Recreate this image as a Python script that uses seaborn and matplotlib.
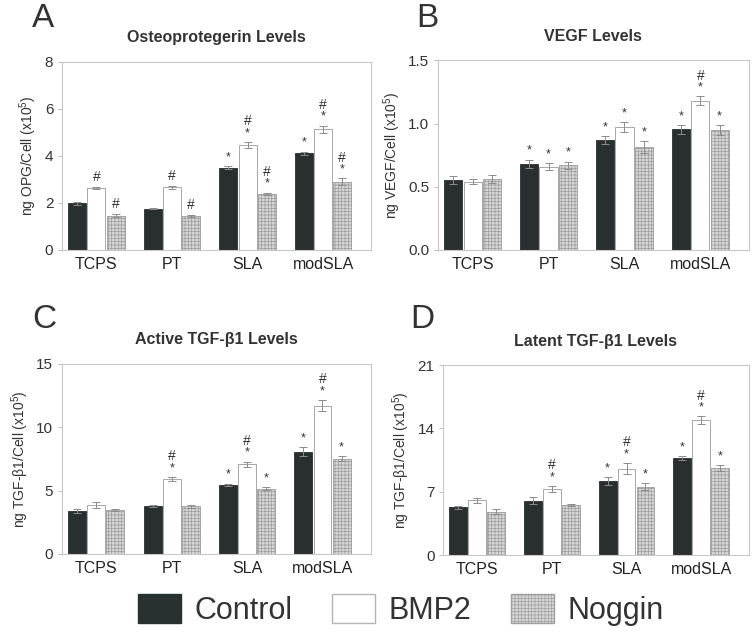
import numpy as np
import pandas as pd
import matplotlib
matplotlib.use("Agg")
import matplotlib.pyplot as plt
import seaborn as sns
from matplotlib.patches import Patch

# ---- data ----
surfaces = ["TCPS", "PT", "SLA", "modSLA"]
treatments = ["Control", "BMP2", "Noggin"]

opg_mean = [[1.98, 2.62, 1.46], [1.76, 2.66, 1.44], [3.50, 4.46, 2.38], [4.10, 5.13, 2.89]]
opg_err = [[0.07, 0.05, 0.08], [0.03, 0.05, 0.04], [0.05, 0.12, 0.06], [0.08, 0.15, 0.15]]
opg_sig = [["", "#", "#"], ["", "#", "#"], ["*", "*#", "*#"], ["*", "*#", "*#"]]

vegf_mean = [[0.555, 0.54, 0.56], [0.68, 0.66, 0.67], [0.87, 0.97, 0.815], [0.955, 1.18, 0.95]]
vegf_err = [[0.03, 0.02, 0.03], [0.035, 0.03, 0.03], [0.03, 0.04, 0.045], [0.035, 0.035, 0.04]]
vegf_sig = [["", "", ""], ["*", "*", "*"], ["*", "*", "*"], ["*", "*#", "*"]]

atgf_mean = [[3.42, 3.84, 3.47], [3.79, 5.90, 3.76], [5.47, 7.08, 5.16], [8.08, 11.71, 7.50]]
atgf_err = [[0.15, 0.25, 0.10], [0.10, 0.15, 0.12], [0.08, 0.20, 0.10], [0.35, 0.45, 0.20]]
atgf_sig = [["", "", ""], ["", "*#", ""], ["*", "*#", "*"], ["*", "*#", "*"]]

ltgf_mean = [[5.29, 6.06, 4.81], [6.03, 7.32, 5.51], [8.20, 9.57, 7.58], [10.72, 14.93, 9.65]]
ltgf_err = [[0.15, 0.25, 0.25], [0.35, 0.35, 0.10], [0.40, 0.60, 0.35], [0.20, 0.40, 0.30]]
ltgf_sig = [["", "", ""], ["", "*#", ""], ["*", "*#", "*"], ["*", "*#", "*"]]

panels = [
    ("A", "Osteoprotegerin Levels", "ng OPG/Cell (x10$^{5}$)", opg_mean, opg_err, opg_sig, 8, [0, 2, 4, 6, 8], "{:.0f}"),
    ("B", "VEGF Levels", "ng VEGF/Cell (x10$^{5}$)", vegf_mean, vegf_err, vegf_sig, 1.5, [0, 0.5, 1.0, 1.5], "{:.1f}"),
    ("C", "Active TGF-β1 Levels", "ng TGF-β1/Cell (x10$^{5}$)", atgf_mean, atgf_err, atgf_sig, 15, [0, 5, 10, 15], "{:.0f}"),
    ("D", "Latent TGF-β1 Levels", "ng TGF-β1/Cell (x10$^{5}$)", ltgf_mean, ltgf_err, ltgf_sig, 21, [0, 7, 14, 21], "{:.0f}"),
]

# axes boxes in figure fractions (left, bottom, width, height)
boxes = [
    (0.082, 0.607, 0.412, 0.296),
    (0.582, 0.607, 0.414, 0.298),
    (0.082, 0.129, 0.411, 0.299),
    (0.589, 0.127, 0.407, 0.299),
]
letter_pos = [(0.043, 0.995), (0.553, 0.995), (0.043, 0.522), (0.546, 0.522)]

DARK = "#283030"
HATCH_FACE = "#d6d6d6"
EDGE_GRAY = "#9a9a9a"
colors = {"Control": DARK, "BMP2": "white", "Noggin": HATCH_FACE}

sns.set_theme(style="white")
plt.rcParams["font.family"] = ["Liberation Sans", "DejaVu Sans"]
plt.rcParams["mathtext.default"] = "regular"
plt.rcParams["hatch.linewidth"] = 0.5

fig = plt.figure(figsize=(7.52, 6.36), dpi=100)

for (letter, title, ylabel, mean, err, sig, ymax, yticks, fmt), box, lp in zip(panels, boxes, letter_pos):
    ax = fig.add_axes(box)
    df = pd.DataFrame({
        "surface": np.repeat(surfaces, len(treatments)),
        "treatment": treatments * len(surfaces),
        "value": np.array(mean).ravel(),
    })
    sns.barplot(data=df, x="surface", y="value", hue="treatment",
                order=surfaces, hue_order=treatments, palette=colors,
                width=0.76, gap=0.06, errorbar=None, legend=False, ax=ax)

    bar_containers = list(ax.containers)
    for h, cont in enumerate(bar_containers):
        for g, bar in enumerate(cont.patches):
            x = bar.get_x() + bar.get_width() / 2
            y = bar.get_height()
            e = err[g][h]
            if treatments[h] == "Control":
                bar.set_edgecolor(DARK)
            elif treatments[h] == "BMP2":
                bar.set_edgecolor(EDGE_GRAY)
            else:
                bar.set_edgecolor("#9c9c9c")
                bar.set_hatch("+++++")
            bar.set_linewidth(0.6)
            ax.errorbar(x, y, yerr=e, color="#8c8c8c", lw=0.7, capsize=3, capthick=0.7, zorder=4)
            m = sig[g][h]
            off = 2
            if "*" in m:
                ax.annotate("*", (x, y + e), xytext=(0, off), textcoords="offset points",
                            ha="center", va="bottom", fontsize=9, color="#333333")
                off += 8
            if "#" in m:
                ax.annotate("#", (x, y + e), xytext=(0, off), textcoords="offset points",
                            ha="center", va="bottom", fontsize=10, color="#333333")

    ax.set_xlim(-0.46, 3.64)
    ax.set_ylim(0, ymax)
    ax.set_yticks(yticks)
    ax.set_yticklabels([fmt.format(t) for t in yticks], fontsize=11, color="#333333")
    ax.set_xticks(range(len(surfaces)))
    ax.set_xticklabels(surfaces, fontsize=11.5, color="#222222")
    ax.set_xlabel("")
    ax.set_ylabel(ylabel, fontsize=10, color="#333333", labelpad=4)
    ax.tick_params(axis="y", which="both", left=True, length=3, width=0.6, color="#b0b0b0", pad=3)
    ax.tick_params(axis="x", length=0, pad=5)
    for s in ax.spines.values():
        s.set_color("#c8c8c8")
        s.set_linewidth(0.8)
    ax.set_title(title, fontsize=11.5, fontweight="bold", color="#333333", pad=14)
    fig.text(lp[0], lp[1], letter, fontsize=24, color="#333333", ha="left", va="top")

handles = [
    Patch(facecolor=DARK, edgecolor=DARK, label="Control"),
    Patch(facecolor="white", edgecolor="#b5b5b5", label="BMP2"),
    Patch(facecolor=HATCH_FACE, edgecolor="#a0a0a0", hatch="+++++", label="Noggin"),
]
fig.legend(handles=handles, loc="center", bbox_to_anchor=(0.533, 0.041), ncol=3,
           frameon=False, fontsize=22, handlelength=1.4, handleheight=1.1,
           handletextpad=0.45, columnspacing=1.3, labelcolor="#333333")

fig.savefig("out.png", dpi=100)
